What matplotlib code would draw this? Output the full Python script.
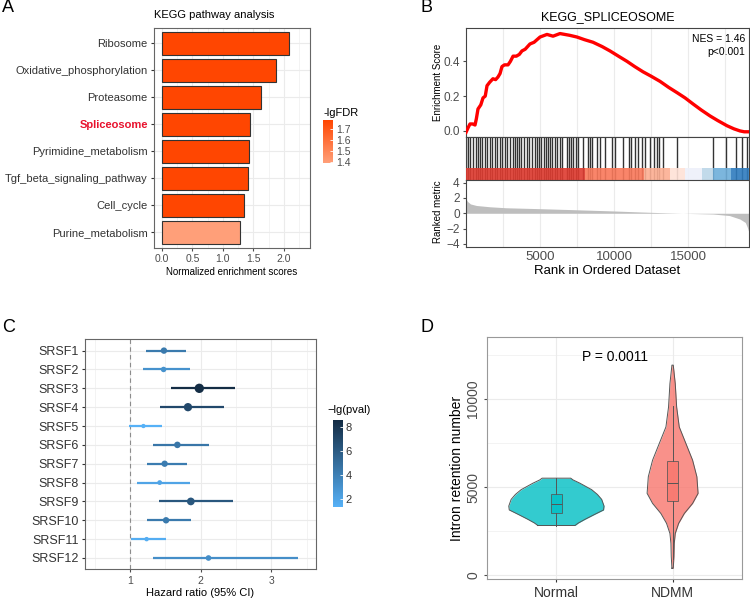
"""
Vier-Panel-Abbildung: KEGG-Analyse, GSEA Spliceosom, Hazard Ratios SRSF, Intron-Retention.
"""

import numpy as np
import matplotlib

matplotlib.use("Agg")
import matplotlib.pyplot as plt
from matplotlib.colors import LinearSegmentedColormap, Normalize
from matplotlib.cm import ScalarMappable

plt.rcParams["font.family"] = ["Liberation Sans", "DejaVu Sans"]

W, H = 750, 598

# ---------------- Daten ----------------
# A: KEGG pathway analysis
pathways = [
    "Ribosome",
    "Oxidative_phosphorylation",
    "Proteasome",
    "Spliceosome",
    "Pyrimidine_metabolism",
    "Tgf_beta_signaling_pathway",
    "Cell_cycle",
    "Purine_metabolism",
]
nes_scores = [2.09, 1.88, 1.63, 1.45, 1.43, 1.41, 1.34, 1.28]
lg_fdr = [1.78, 1.78, 1.78, 1.78, 1.78, 1.78, 1.78, 1.39]

# B: GSEA KEGG_SPLICEOSOME
es_rank = [0, 150, 270, 450, 610, 700, 810, 1000, 1150, 1300, 1420, 1600, 1820,
           2000, 2160, 2300, 2430, 2600, 2840, 3000, 3180, 3400, 3600, 3780, 4000,
           4320, 4600, 5000, 5470, 5880, 6350, 7000, 7500, 8000, 8580, 9200, 9730,
           10300, 10880, 11400, 11960, 12500, 13110, 13700, 14260, 14800, 15340,
           15900, 16490, 17000, 17630, 18100, 18510, 18800, 19050]
es_value = [-0.008, 0.02, 0.04, 0.04, 0.034, 0.07, 0.126, 0.15, 0.19, 0.2, 0.26,
            0.28, 0.30, 0.295, 0.31, 0.33, 0.37, 0.38, 0.38, 0.40, 0.43, 0.43,
            0.44, 0.46, 0.47, 0.50, 0.51, 0.54, 0.555, 0.545, 0.56, 0.55, 0.54,
            0.525, 0.51, 0.485, 0.46, 0.43, 0.40, 0.37, 0.34, 0.315, 0.285, 0.25,
            0.22, 0.19, 0.155, 0.12, 0.086, 0.06, 0.03, 0.012, 0.0, -0.005, -0.005]
hit_ranks = [20, 135, 270, 495, 655, 810, 945, 1100, 1265, 1400, 1620, 1780, 1940,
             2075, 2300, 2450, 2615, 2790, 2975, 3195, 3290, 3465, 3580, 3735, 3920,
             4140, 4255, 4480, 4640, 4775, 4930, 5090, 5270, 5385, 5540, 5675, 5830,
             5995, 6170, 6350, 6510, 6805, 6960, 7095, 7250, 7410, 7550, 7925, 8265,
             8380, 8535, 8830, 9055, 9390, 9845, 10070, 10630, 11015, 11150, 11420,
             11600, 11870, 12095, 12430, 12725, 12925, 13060, 13330, 14280, 16710,
             17570, 18240, 18630, 18970]
band_edges = [0, 8060, 12030, 13780, 14800, 15970, 16720, 17900, 19120]
band_colors = ["#DE3B30", "#F9785A", "#FCAE92", "#FEE1D6", "#EEF0FA",
               "#BCD6E8", "#6EAEDA", "#2E7BBE"]
metric_rank = [0, 100, 300, 700, 1600, 2700, 5000, 7250, 10000, 11800, 13500,
               15000, 16700, 17800, 18500, 18870, 19000, 19100]
metric_value = [1.9, 1.55, 1.22, 1.02, 0.85, 0.72, 0.6, 0.47, 0.3, 0.17, 0.06,
                -0.02, -0.1, -0.3, -0.75, -1.2, -1.8, -2.4]

# C: Hazard ratios
genes = ["SRSF1", "SRSF2", "SRSF3", "SRSF4", "SRSF5", "SRSF6",
         "SRSF7", "SRSF8", "SRSF9", "SRSF10", "SRSF11", "SRSF12"]
hr = [1.48, 1.475, 1.98, 1.82, 1.19, 1.67, 1.49, 1.42, 1.86, 1.51, 1.235, 2.11]
hr_low = [1.23, 1.19, 1.58, 1.42, 0.99, 1.32, 1.24, 1.10, 1.41, 1.24, 1.01, 1.32]
hr_high = [1.79, 1.85, 2.49, 2.33, 1.45, 2.12, 1.80, 1.85, 2.45, 1.86, 1.51, 3.38]
lg_pval = [4.3, 3.0, 8.5, 7.0, 1.3, 4.5, 4.2, 2.0, 6.2, 4.3, 1.5, 3.2]

# D: Intron retention
groups = ["Normal", "NDMM"]
normal_y = [2820, 2960, 3170, 3460, 3700, 3920, 4300, 4580, 4850, 5220, 5400, 5500]
normal_dens = [0.39, 0.46, 0.60, 0.81, 0.99, 1.0, 0.95, 0.86, 0.74, 0.49, 0.35, 0.30]
ndmm_y = [400, 1060, 1810, 2370, 2940, 3500, 4070, 4640, 5580, 6520, 7460, 8400,
          9530, 10850, 11900]
ndmm_dens = [0.014, 0.028, 0.035, 0.056, 0.127, 0.246, 0.42, 0.535, 0.51, 0.42,
             0.28, 0.14, 0.085, 0.056, 0.014]
box_stats = [
    dict(whislo=2820, q1=3510, med=4060, q3=4580, whishi=5500),
    dict(whislo=900, q1=4200, med=5240, q3=6460, whishi=9600),
]
p_text = "P = 0.0011"


def box(x0, y0, x1, y1):
    """Pixel-Rechteck (oben links / unten rechts) -> Figure-Koordinaten."""
    return [x0 / W, 1 - y1 / H, (x1 - x0) / W, (y1 - y0) / H]


def ftext(x, y, s, **kw):
    fig.text(x / W, 1 - y / H, s, **kw)


GRID = "#EBEBEB"
FRAME = "#555555"
TICKC = "#4D4D4D"


def style_frame(ax, color=FRAME, lw=0.8):
    for sp in ax.spines.values():
        sp.set_color(color)
        sp.set_linewidth(lw)


fig = plt.figure(figsize=(W / 100, H / 100), dpi=100)

# Panel-Buchstaben
for lab, x, y in [("A", 2, 8), ("B", 421, 8), ("C", 2, 328), ("D", 421, 328)]:
    ftext(x, y, lab, fontsize=13, va="center", ha="left")

# ---------------- Panel A ----------------
axA = fig.add_axes(box(154, 28, 310, 248))
cmapA = LinearSegmentedColormap.from_list("salmon", ["#FFA07A", "#FF4500"])
normA = Normalize(1.385, 1.786)
yA = np.arange(len(pathways))
axA.barh(yA, nes_scores, height=0.86, color=cmapA(normA(lg_fdr)),
         edgecolor="#333333", linewidth=0.8, zorder=3)
axA.set_ylim(len(pathways) - 0.42, -0.57)
axA.set_xlim(-0.13, 2.43)
axA.set_xticks([0, 0.5, 1.0, 1.5, 2.0])
axA.set_xticks([0.25, 0.75, 1.25, 1.75, 2.25], minor=True)
axA.set_xticklabels(["0.0", "0.5", "1.0", "1.5", "2.0"])
axA.set_yticks(yA)
axA.set_yticklabels(pathways)
axA.grid(True, which="major", color=GRID, lw=0.8)
axA.grid(True, which="minor", axis="x", color=GRID, lw=0.4)
axA.set_axisbelow(True)
axA.tick_params(axis="y", labelsize=8, colors="#333333", length=2.5, pad=2)
axA.tick_params(axis="x", labelsize=7.5, colors=TICKC, length=2.5, pad=2)
axA.tick_params(which="minor", length=0)
lbl = axA.get_yticklabels()[3]
lbl.set_color("#E8112D")
lbl.set_fontweight("bold")
style_frame(axA, "#666666")
ftext(154, 15, "KEGG pathway analysis", fontsize=8, va="center", ha="left")
ftext(232, 272, "Normalized enrichment scores", fontsize=7, va="center", ha="center")

caxA = fig.add_axes(box(323, 120, 333, 163.3))
cbA = fig.colorbar(ScalarMappable(normA, cmapA), cax=caxA, ticks=[1.4, 1.5, 1.6, 1.7])
cbA.outline.set_visible(False)
caxA.tick_params(labelsize=7.5, colors="white", length=2, width=0.6, direction="in",
                 pad=2, labelcolor=TICKC)
ftext(323, 113, "-lgFDR", fontsize=8, va="center", ha="left")

# ---------------- Panel B ----------------
XMAX = 19120
axT = fig.add_axes(box(466, 28, 749, 137))
axM = fig.add_axes(box(466, 137, 749, 180))
axR = fig.add_axes(box(466, 180, 749, 247.3))

for ax in (axT, axM, axR):
    ax.set_xlim(0, XMAX)
    ax.set_xticks([5000, 10000, 15000])
    ax.set_xticks([2500, 7500, 12500, 17500], minor=True)
    ax.grid(True, which="both", axis="x", color=GRID, lw=0.8)
    ax.set_axisbelow(True)
    style_frame(ax, "#444444")
    ax.tick_params(which="minor", length=0)

axT.plot(es_rank, es_value, color="#FF0000", lw=2.4, solid_joinstyle="round", zorder=3)
axT.set_ylim(-0.035, 0.592)
axT.set_yticks([0.0, 0.2, 0.4])
axT.set_yticklabels(["0.0", "0.2", "0.4"])
axT.tick_params(axis="x", length=0, labelbottom=False)
axT.tick_params(axis="y", labelsize=8.5, colors=TICKC, length=2.5, pad=2)
axT.text(0.985, 0.9, "NES = 1.46", transform=axT.transAxes, ha="right",
         va="center", fontsize=7.5)
axT.text(0.985, 0.78, "p<0.001", transform=axT.transAxes, ha="right",
         va="center", fontsize=7.5)

axM.set_ylim(0, 1)
axM.vlines(hit_ranks, 0, 1, color="black", lw=1.0, alpha=0.8, zorder=2)
for x0, x1, c in zip(band_edges[:-1], band_edges[1:], band_colors):
    axM.axvspan(x0, x1, ymin=0, ymax=0.28, color=c, alpha=0.9, lw=0, zorder=3)
axM.set_yticks([])
axM.tick_params(axis="x", length=0, labelbottom=False)

axR.fill_between(metric_rank, 0, metric_value, color="#BEBEBE", lw=0, zorder=2)
axR.set_ylim(-4.45, 4.35)
axR.set_yticks([-4, -2, 0, 2, 4])
axR.tick_params(axis="y", labelsize=8.5, colors=TICKC, length=2.5, pad=2)
axR.tick_params(axis="x", labelsize=9.5, colors=TICKC, length=0, pad=3)

ftext(607.5, 17, "KEGG_SPLICEOSOME", fontsize=9, ha="center", va="center")
ftext(438, 82, "Enrichment Score", fontsize=7, rotation=90, ha="center", va="center")
ftext(438, 212, "Ranked metric", fontsize=7, rotation=90, ha="center", va="center")
ftext(607.5, 271, "Rank in Ordered Dataset", fontsize=9.5, ha="center", va="center")

# ---------------- Panel C ----------------
axC = fig.add_axes(box(85, 339.3, 316, 569.3))
cmapC = LinearSegmentedColormap.from_list("gg", ["#56B1F7", "#132B43"])
normC = Normalize(1.3, 8.6)
yC = np.arange(1, len(genes) + 1)
colC = cmapC(normC(lg_pval))
axC.hlines(yC, hr_low, hr_high, colors=colC, lw=1.6, zorder=3)
sizes = [(0.72 * (3.4 + 0.7 * v)) ** 2 for v in lg_pval]
axC.scatter(hr, yC, s=sizes, c=colC, zorder=4, linewidths=0)
axC.axvline(1, color="#8C8C8C", ls=(0, (4, 3)), lw=0.8, zorder=2)
axC.set_xlim(0.364, 3.63)
axC.set_ylim(len(genes) + 0.6, 0.4)
axC.set_xticks([1, 2, 3])
axC.set_xticks([0.5, 1.5, 2.5, 3.5], minor=True)
axC.set_yticks(yC)
axC.set_yticklabels(genes)
axC.grid(True, which="major", color=GRID, lw=0.8)
axC.grid(True, which="minor", axis="x", color=GRID, lw=0.4)
axC.set_axisbelow(True)
axC.tick_params(axis="y", labelsize=9, colors="#333333", length=2.5, pad=2)
axC.tick_params(axis="x", labelsize=7.5, colors=TICKC, length=2.5, pad=2)
axC.tick_params(which="minor", length=0)
style_frame(axC, "#666666")
ftext(200.5, 593, "Hazard ratio (95% CI)", fontsize=8, ha="center", va="center")

caxC = fig.add_axes(box(333, 420, 343, 507))
cbC = fig.colorbar(ScalarMappable(normC, cmapC), cax=caxC, ticks=[2, 4, 6, 8])
cbC.outline.set_visible(False)
caxC.tick_params(labelsize=8, colors="white", length=2, width=0.6, direction="in",
                 pad=2, labelcolor="#333333")
ftext(327, 410, "\u2212lg(pval)", fontsize=8, ha="left", va="center")

# ---------------- Panel D ----------------
axD = fig.add_axes(box(486.7, 336.7, 742.3, 579.3))
VW = 0.41
fills = ["#00BFC4", "#F8766D"]
for i, (ys, ds) in enumerate([(normal_y, normal_dens), (ndmm_y, ndmm_dens)]):
    xc = i + 1
    half = VW * np.array(ds)
    axD.fill_betweenx(ys, xc - half, xc + half, color=fills[i], alpha=0.8,
                      lw=0, zorder=2)
    axD.plot(np.r_[xc - half, (xc + half)[::-1], xc - half[0]],
             np.r_[ys, ys[::-1], ys[0]], color="#555555", lw=0.7, zorder=3)
bp = axD.bxp(box_stats, positions=[1, 2], widths=0.1, showfliers=False,
             showcaps=False, patch_artist=True, manage_ticks=False, zorder=4)
for patch, c in zip(bp["boxes"], fills):
    patch.set_facecolor(c)
    patch.set_alpha(0.8)
    patch.set_edgecolor("#555555")
    patch.set_linewidth(0.7)
for ln in bp["whiskers"] + bp["medians"]:
    ln.set_color("#555555")
    ln.set_linewidth(0.7)
axD.set_xlim(0.4, 2.6)
axD.set_ylim(-226, 13510)
axD.set_xticks([1, 2])
axD.set_xticklabels(groups)
axD.set_yticks([0, 5000, 10000])
axD.set_yticks([2500, 7500, 12500], minor=True)
axD.grid(True, which="major", color=GRID, lw=0.8)
axD.grid(True, which="minor", axis="y", color=GRID, lw=0.4)
axD.set_axisbelow(True)
axD.tick_params(axis="x", labelsize=10, colors="#333333", length=2.5, pad=2)
axD.tick_params(axis="y", labelsize=10, colors=TICKC, length=2.5, pad=2)
axD.tick_params(which="minor", length=0)
for t in axD.get_yticklabels():
    t.set_rotation(90)
    t.set_va("center")
style_frame(axD, "#999999")
axD.text(1.5, 12350, p_text, ha="center", va="center", fontsize=10)
ftext(457, 468, "Intron retention number", fontsize=10, rotation=90,
      ha="center", va="center")

fig.savefig("out.png", dpi=100)
